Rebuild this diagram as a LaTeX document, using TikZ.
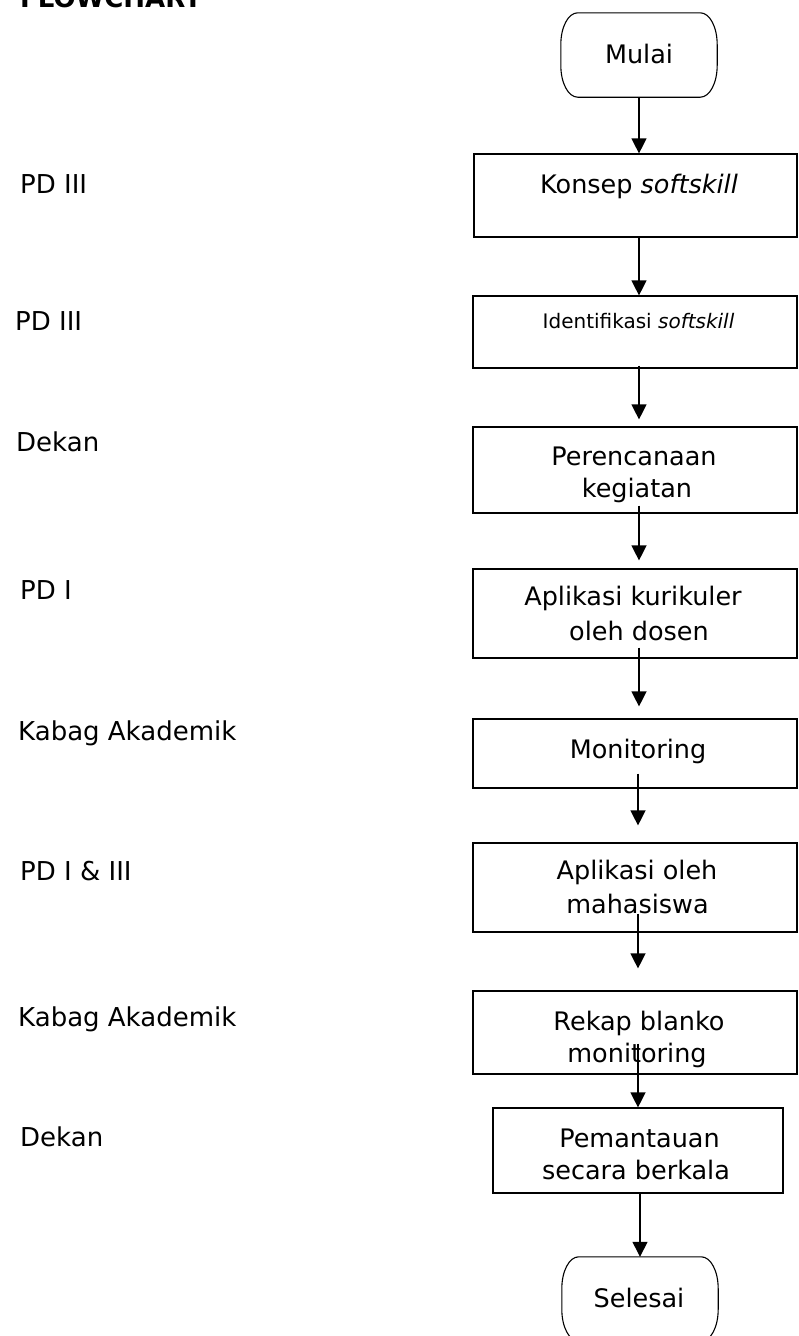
\documentclass[tikz,border=0pt]{standalone}
\usepackage{fontspec}
\setmainfont{DejaVu Sans}
\usetikzlibrary{arrows.meta}
\newcommand\termpath[1]{%
  \draw[line width=1.1pt] ([xshift=17pt]#1.north west) -- ([xshift=-17pt]#1.north east)
    .. controls ([xshift=-7.5pt]#1.north east) and ([yshift=-14pt]#1.north east) .. ([yshift=-32pt]#1.north east)
    -- ([yshift=32pt]#1.south east)
    .. controls ([yshift=14pt]#1.south east) and ([xshift=-7.5pt]#1.south east) .. ([xshift=-17pt]#1.south east)
    -- ([xshift=17pt]#1.south west)
    .. controls ([xshift=7.5pt]#1.south west) and ([yshift=14pt]#1.south west) .. ([yshift=32pt]#1.south west)
    -- ([yshift=-32pt]#1.north west)
    .. controls ([yshift=-14pt]#1.north west) and ([xshift=7.5pt]#1.north west) .. ([xshift=17pt]#1.north west) -- cycle;}
\begin{document}
\begin{tikzpicture}[x=1pt,y=-1pt,
  box/.style={draw, line width=1.2pt, rectangle, inner sep=0pt},
  term/.style={draw=none, rectangle, inner sep=0pt, minimum width=156pt, minimum height=84pt},
  lab/.style={font=\fontsize{25.5}{30}\selectfont, inner sep=0pt, anchor=base},
  smalllab/.style={font=\fontsize{20}{24}\selectfont, inner sep=0pt, anchor=base},
  side/.style={font=\fontsize{26}{30}\selectfont, inner sep=0pt, anchor=base west},
  arr/.style={line width=1.3pt, -{Triangle[width=15pt,length=15pt]}}]
\useasboundingbox (0,0) rectangle (799,1336);
\fill[white] (0,0) rectangle (799,1336);
\clip (0,0) rectangle (799,1336);

% title (cut off at top, as in the reference)
\node[font=\fontsize{26}{30}\selectfont\bfseries, inner sep=0pt, anchor=base west] (title) at (20,7) {FLOWCHART};

% left labels
\node[side] (r1) at (20,193) {PD III};
\node[side] (r2) at (15,330) {PD III};
\node[side] (r3) at (16,451) {Dekan};
\node[side] (r4) at (20,599) {PD I};
\node[side] (r5) at (18,740) {Kabag Akademik};
\node[side] (r6) at (20,880) {PD I \& III};
\node[side] (r7) at (18,1026) {Kabag Akademik};
\node[side] (r8) at (20,1146) {Dekan};

% terminals
\node[term] (m) at (639,55) {};
\termpath{m}
\node[lab] (mt) at (639,63) {Mulai};

\node[term] (s) at (640,1299) {};
\termpath{s}
\node[lab] (st) at (639,1307) {Selesai};

% process boxes
\node[box, minimum width=323pt, minimum height=83pt] (b1) at (635.5,195.5) {};
\node[lab] (t1) at (639,193) {Konsep \textit{softskill}};

\node[box, minimum width=324pt, minimum height=72pt] (b2) at (635,332) {};
\node[smalllab] (t2) at (638.5,328) {Identifikasi \textit{softskill}};

\node[box, minimum width=324pt, minimum height=86pt] (b3) at (635,470) {};
\node[lab] (t3a) at (634,465) {Perencanaan};
\node[lab] (t3b) at (637,497) {kegiatan};

\node[box, minimum width=324pt, minimum height=89pt] (b4) at (635,613.5) {};
\node[lab] (t4a) at (633,605) {Aplikasi kurikuler};
\node[lab] (t4b) at (639,640) {oleh dosen};

\node[box, minimum width=324pt, minimum height=69pt] (b5) at (635,753.5) {};
\node[lab] (t5) at (638,758) {Monitoring};

\node[box, minimum width=324pt, minimum height=89pt] (b6) at (635,887.5) {};
\node[lab] (t6a) at (637,879) {Aplikasi oleh};
\node[lab] (t6b) at (637.5,913) {mahasiswa};

\node[box, minimum width=324pt, minimum height=83pt] (b7) at (635,1032.5) {};
\node[lab] (t7a) at (639,1030) {Rekap blanko};
\node[lab] (t7b) at (637,1062) {monitoring};

\node[box, minimum width=290pt, minimum height=85pt] (b8) at (638,1150.5) {};
\node[lab] (t8a) at (639.5,1147) {Pemantauan};
\node[lab] (t8b) at (636,1179) {secara berkala};

% connectors
\draw[arr] (m.south) -- (m.south |- b1.north);
\draw[arr] ([xshift=3.5pt]b1.south) -- ([xshift=4pt]b2.north);
\draw[arr] ([xshift=4pt,yshift=3pt]b2.south) -- ([xshift=4pt,yshift=7pt]b3.north);
\draw[arr] ([xshift=4pt,yshift=8pt]b3.south) -- ([xshift=4pt,yshift=8pt]b4.north);
\draw[arr] ([xshift=4pt,yshift=11pt]b4.south) -- ([xshift=4pt,yshift=12pt]b5.north);
\draw[arr] ([xshift=3pt,yshift=15pt]b5.south) -- ([xshift=3pt,yshift=17pt]b6.north);
\draw[arr] ([xshift=3pt,yshift=19pt]b6.south) -- ([xshift=3pt,yshift=22pt]b7.north);
\draw[arr] ([xshift=3pt,yshift=31pt]b7.south) -- (b8.north);
\draw[arr] (s.north |- b8.south) -- (s.north);
\end{tikzpicture}
\end{document}
